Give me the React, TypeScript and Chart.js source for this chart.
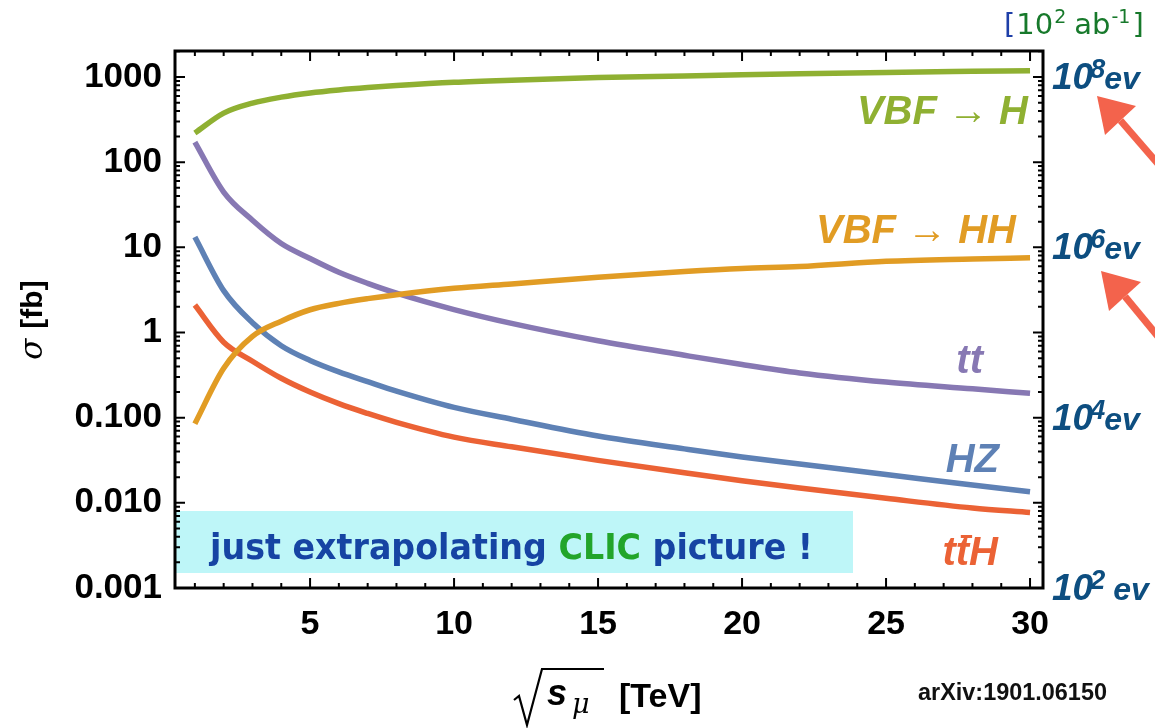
import React, { useEffect, useRef } from 'react';
import { Chart, registerables } from 'chart.js';

Chart.register(...registerables);

// sqrt(s_mu) in TeV
const energies = [1, 2, 3, 4, 5, 6, 7, 8, 10, 12, 15, 18, 20, 22, 25, 28, 30];
// cross sections in fb
const vbfH = [220, 377, 494, 580, 650, 705, 752, 793, 866, 918, 985, 1030, 1062, 1092, 1133, 1166, 1187];
const vbfHH = [0.085, 0.38, 0.9, 1.36, 1.85, 2.2, 2.5, 2.78, 3.3, 3.72, 4.45, 5.2, 5.65, 5.95, 6.85, 7.3, 7.55];
const ttPair = [172, 44.6, 20.8, 11.1, 7.4, 5.1, 3.78, 2.9, 1.86, 1.28, 0.8, 0.54, 0.42, 0.335, 0.262, 0.218, 0.193];
const hz = [13.2, 3.1, 1.3, 0.7, 0.47, 0.345, 0.265, 0.205, 0.132, 0.096, 0.061, 0.043, 0.0345, 0.0285, 0.0215, 0.0162, 0.0135];
const ttH = [2.1, 0.77, 0.46, 0.29, 0.2, 0.146, 0.112, 0.088, 0.059, 0.0455, 0.0315, 0.0225, 0.0182, 0.0149, 0.0113, 0.0087, 0.0077];

const xTicks = [5, 10, 15, 20, 25, 30];
const yTicks = [0.001, 0.01, 0.1, 1, 10, 100, 1000];
const yTickLabels = ['0.001', '0.010', '0.100', '1', '10', '100', '1000'];
const eventTicks = [1000, 10, 0.1, 0.001];
const eventExp = ['8', '6', '4', '2'];

const COLORS = {
  blue: '#5E81B5',
  orange: '#E19C24',
  green: '#8FB032',
  red: '#EB6235',
  purple: '#8778B3',
};

const SANS = '"Liberation Sans", Arial, Helvetica, sans-serif';
const ROUND = '"DejaVu Sans", sans-serif';

function pts(vals: number[]) {
  return energies.map((e, i) => ({ x: e, y: vals[i] }));
}

function fitFont(ctx: CanvasRenderingContext2D, text: string, base: string, family: string, width: number) {
  ctx.font = `${base} 40px ${family}`;
  const w = ctx.measureText(text).width;
  return (40 * width) / w;
}

const decorPlugin = {
  id: 'decor',
  beforeDatasetsDraw(chart: any) {
    const { ctx, chartArea } = chart;
    ctx.save();
    // cyan note box
    ctx.fillStyle = '#BEF6F8';
    ctx.fillRect(chartArea.left, 511, 853 - chartArea.left, 62);
    ctx.restore();
  },
  afterDatasetsDraw(chart: any) {
    const { ctx, chartArea, scales } = chart;
    const { left, right, top, bottom } = chartArea;
    const x = scales.x;
    const y = scales.y;
    ctx.save();
    ctx.strokeStyle = '#000';
    ctx.lineWidth = 2;
    ctx.beginPath();
    for (let v = 1; v <= 30; v++) {
      const px = x.getPixelForValue(v);
      const len = v % 5 === 0 ? 10 : 5;
      ctx.moveTo(px, bottom);
      ctx.lineTo(px, bottom - len);
      ctx.moveTo(px, top);
      ctx.lineTo(px, top + len);
    }
    for (let e = -3; e <= 3; e++) {
      for (let m = 1; m <= 9; m++) {
        const v = m * Math.pow(10, e);
        if (v > y.max) break;
        const py = y.getPixelForValue(v);
        const len = m === 1 ? 10 : 5;
        ctx.moveTo(left, py);
        ctx.lineTo(left + len, py);
        ctx.moveTo(right, py);
        ctx.lineTo(right - len, py);
      }
    }
    ctx.stroke();
    ctx.lineWidth = 3;
    ctx.strokeRect(left, top, right - left, bottom - top);

    // curve labels
    ctx.textBaseline = 'alphabetic';
    ctx.textAlign = 'right';
    ctx.font = `italic bold 40px ${SANS}`;
    ctx.fillStyle = COLORS.green;
    ctx.fillText('VBF \u2192 H', 1028, 124);
    ctx.fillStyle = COLORS.orange;
    ctx.fillText('VBF \u2192 HH', 1016, 243);
    ctx.fillStyle = COLORS.purple;
    ctx.fillText('tt', 983, 373);
    ctx.fillStyle = COLORS.blue;
    ctx.fillText('HZ', 999, 472);
    ctx.fillStyle = COLORS.red;
    ctx.fillText('ttH', 998, 565);
    // bar over the second t
    ctx.textAlign = 'left';
    const wH = ctx.measureText('H').width;
    const wT = ctx.measureText('t').width;
    const t2x = 998 - wH - wT;
    ctx.fillRect(t2x + 5, 535, wT - 2, 3);

    // right event labels
    ctx.fillStyle = '#0D4E80';
    eventTicks.forEach((v, i) => {
      const py = y.getPixelForValue(v);
      let cx = 1052;
      ctx.font = `italic bold 37px ${SANS}`;
      ctx.fillText('10', cx, py + 12);
      cx += ctx.measureText('10').width - 3;
      ctx.font = `italic bold 27px ${SANS}`;
      ctx.fillText(eventExp[i], cx, py + 1);
      cx += ctx.measureText(eventExp[i]).width - 1 + (i === 3 ? 9 : 0);
      ctx.font = `italic bold 32px ${SANS}`;
      ctx.fillText('ev', cx, py + 12);
    });

    // top unit label [10^2 ab^-1]
    {
      let cx = 1004;
      const by = 34;
      ctx.font = `29px ${ROUND}`;
      ctx.fillStyle = '#1E3FA8';
      ctx.fillText('[', cx, by);
      cx += ctx.measureText('[').width + 1;
      ctx.fillStyle = '#17792B';
      ctx.fillText('10', cx, by);
      cx += ctx.measureText('10').width;
      ctx.font = `19px ${ROUND}`;
      ctx.fillText('2', cx + 1, by - 11);
      cx += ctx.measureText('2').width + 9;
      ctx.font = `29px ${ROUND}`;
      ctx.fillText('ab', cx, by);
      cx += ctx.measureText('ab').width;
      ctx.font = `19px ${ROUND}`;
      ctx.fillText('-1', cx + 1, by - 11);
      cx += ctx.measureText('-1').width + 3;
      ctx.font = `29px ${ROUND}`;
      ctx.fillText(']', cx, by);
    }

    // note text in box (horizontally fitted)
    {
      const parts = [
        { t: 'just extrapolating ', c: '#1644A3' },
        { t: 'CLIC', c: '#22A52A' },
        { t: ' picture !', c: '#1644A3' },
      ];
      const full = parts.map((p) => p.t).join('');
      ctx.font = `bold 35px ${ROUND}`;
      const w = ctx.measureText(full).width;
      const sx = 603 / w;
      ctx.save();
      ctx.translate(210, 559);
      ctx.scale(sx, 1);
      let cx = 0;
      parts.forEach((p) => {
        ctx.fillStyle = p.c;
        ctx.fillText(p.t, cx, 0);
        cx += ctx.measureText(p.t).width;
      });
      ctx.restore();
    }

    // arrows
    ctx.fillStyle = '#F3634C';
    ctx.strokeStyle = '#F3634C';
    ctx.lineWidth = 7;
    const arrow = (tip: number[], c1: number[], c2: number[], tail: number[]) => {
      ctx.beginPath();
      ctx.moveTo((c1[0] + c2[0]) / 2, (c1[1] + c2[1]) / 2);
      ctx.lineTo(tail[0], tail[1]);
      ctx.stroke();
      ctx.beginPath();
      ctx.moveTo(tip[0], tip[1]);
      ctx.lineTo(c1[0], c1[1]);
      ctx.lineTo(c2[0], c2[1]);
      ctx.closePath();
      ctx.fill();
    };
    arrow([1097, 96], [1136, 106], [1105, 135], [1165, 172]);
    arrow([1101, 271], [1141, 282], [1109, 311], [1165, 345]);

    // arXiv
    ctx.fillStyle = '#111';
    const s = fitFont(ctx, 'arXiv:1901.06150', 'bold', SANS, 189);
    ctx.font = `bold ${s}px ${SANS}`;
    ctx.fillText('arXiv:1901.06150', 918, 700);

    // x title: sqrt(s_mu) [TeV]
    ctx.strokeStyle = '#000';
    ctx.lineWidth = 2.2;
    ctx.lineJoin = 'miter';
    ctx.beginPath();
    ctx.moveTo(514, 700);
    ctx.lineTo(519, 696);
    ctx.lineTo(527, 725);
    ctx.lineTo(542, 669);
    ctx.lineTo(604, 669);
    ctx.stroke();
    ctx.fillStyle = '#000';
    ctx.font = `italic bold 36px ${SANS}`;
    ctx.fillText('s', 547, 705);
    ctx.font = `italic 27px "DejaVu Serif", serif`;
    ctx.fillText('\u03bc', 572, 713);
    ctx.font = `bold 34px ${SANS}`;
    ctx.fillText('[TeV]', 619, 707);

    // y title
    ctx.save();
    ctx.translate(42, 320);
    ctx.rotate(-Math.PI / 2);
    ctx.textAlign = 'left';
    ctx.font = `italic 31px "DejaVu Serif", serif`;
    const sigW = ctx.measureText('\u03c3 ').width;
    ctx.font = `bold 30px ${SANS}`;
    const fbW = ctx.measureText('[fb]').width;
    const start = -(sigW + fbW) / 2;
    ctx.font = `italic 31px "DejaVu Serif", serif`;
    ctx.fillText('\u03c3', start, 0);
    ctx.font = `bold 30px ${SANS}`;
    ctx.fillText('[fb]', start + sigW, 0);
    ctx.restore();

    ctx.restore();
  },
};

export default function App() {
  const ref = useRef<HTMLCanvasElement | null>(null);
  useEffect(() => {
    document.body.style.margin = '0';
    const canvas = ref.current;
    if (!canvas) return;
    const mk = (label: string, vals: number[], color: string) => ({
      label,
      data: pts(vals),
      borderColor: color,
      backgroundColor: color,
      borderWidth: 5.5,
      pointRadius: 0,
      cubicInterpolationMode: 'monotone' as const,
      fill: false,
    });
    const chart = new Chart(canvas, {
      type: 'line',
      data: {
        datasets: [
          mk('VBF \u2192 H', vbfH, COLORS.green),
          mk('VBF \u2192 HH', vbfHH, COLORS.orange),
          mk('tt', ttPair, COLORS.purple),
          mk('HZ', hz, COLORS.blue),
          mk('ttH', ttH, COLORS.red),
        ],
      },
      options: {
        animation: false,
        responsive: false,
        devicePixelRatio: 1,
        layout: { padding: { left: 0, top: 51, right: 112, bottom: 0 } },
        plugins: { legend: { display: false }, tooltip: { enabled: false } },
        scales: {
          x: {
            type: 'linear',
            min: 0.31,
            max: 30.45,
            afterBuildTicks: (scale: any) => {
              scale.ticks = xTicks.map((v) => ({ value: v }));
            },
            afterFit: (scale: any) => {
              scale.height = 140;
            },
            ticks: {
              autoSkip: false,
              maxRotation: 0,
              padding: 16,
              color: '#000',
              font: { family: SANS, weight: 'bold', size: 34 },
              callback: (v: any) => String(v),
            },
            grid: { display: false, drawTicks: false },
            border: { display: false },
          },
          y: {
            type: 'logarithmic',
            min: 0.001,
            max: 2020,
            afterBuildTicks: (scale: any) => {
              scale.ticks = yTicks.map((v) => ({ value: v }));
            },
            afterFit: (scale: any) => {
              scale.width = 175;
            },
            ticks: {
              autoSkip: false,
              padding: 13,
              color: '#000',
              font: { family: SANS, weight: 'bold', size: 35 },
              callback: (v: any) => {
                const i = yTicks.findIndex((t) => Math.abs(Math.log10(t) - Math.log10(Number(v))) < 1e-6);
                return i >= 0 ? yTickLabels[i] : '';
              },
            },
            grid: { display: false, drawTicks: false },
            border: { display: false },
          },
        },
      },
      plugins: [decorPlugin],
    });
    return () => chart.destroy();
  }, []);
  return <canvas ref={ref} width={1155} height={728} style={{ display: 'block', width: 1155, height: 728 }} />;
}
